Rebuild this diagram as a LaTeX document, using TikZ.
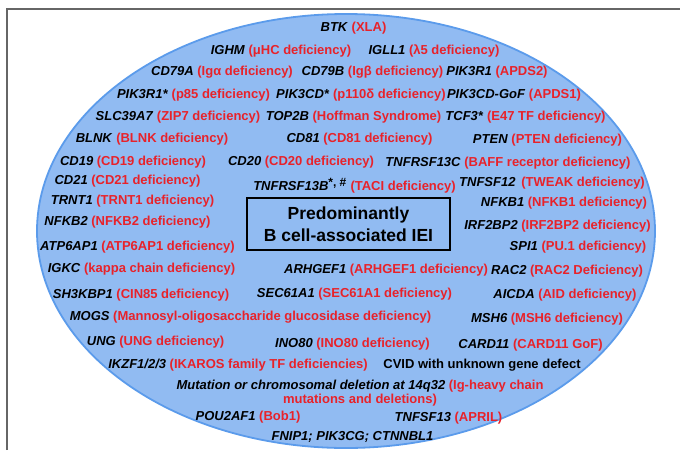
\documentclass[tikz,border=0pt]{standalone}
\usepackage{fontspec}
\setmainfont{Liberation Sans}
\usepackage{xcolor}
\usepackage{tikz}
\usetikzlibrary{shapes.geometric}
\definecolor{iered}{HTML}{E8222A}
\definecolor{ovalfill}{HTML}{91BBF2}
\definecolor{ovalline}{HTML}{5B9BEB}
\newcommand{\iei}[2]{\textit{#1} \textcolor{iered}{(#2)}}

\begin{document}
\begin{tikzpicture}[x=1pt, y=-1pt,
  oval/.style={ellipse, draw=ovalline, fill=ovalfill, line width=1.8pt,
               minimum width=618pt, minimum height=434pt, inner sep=0pt},
  gene/.style={font=\fontsize{13}{14}\selectfont\bfseries, inner sep=0pt, align=center},
  core/.style={draw=black, line width=1.8pt, fill=ovalfill, align=center,
               minimum width=203pt, minimum height=52pt, inner sep=0pt,
               font=\fontsize{17.5}{22}\selectfont\bfseries},
  frame/.style={draw=black!60, line width=1.5pt},
]
\useasboundingbox (0,0) rectangle (680,450);

%% Outer frame (only top and left edges visible)
\draw[frame] (7,450) -- (7,9) -- (680,9);

%% Oval and central box
\node[oval] (oval) at (346,231) {};
\node[core] (core) at (348.5,224) {Predominantly\\B cell-associated IEI};

%% Upper part of the oval
\node[gene] (btk)     at (353.5,28)  {\iei{BTK}{XLA}};
\node[gene] (ighm)    at (281,51)    {\iei{IGHM}{μHC deficiency}};
\node[gene] (igll)    at (434,51)    {\iei{IGLL1}{λ5 deficiency}};
\node[gene] (cdsa)    at (222,72)    {\iei{CD79A}{Igα deficiency}};
\node[gene] (cdsb)    at (372.5,72)  {\iei{CD79B}{Igβ deficiency}};
\node[gene] (apdsb)   at (497,72)    {\iei{PIK3R1}{APDS2}};
\node[gene] (pik)     at (193.5,95)  {\iei{PIK3R1*}{p85 deficiency}};
\node[gene] (pikcd)   at (361,95)    {\iei{PIK3CD*}{p110δ deficiency}};
\node[gene] (apdsa)   at (514,95)    {\iei{PIK3CD-GoF}{APDS1}};
\node[gene] (slc)     at (178,117)   {\iei{SLC39A7}{ZIP7 deficiency}};
\node[gene] (top)     at (353.5,117) {\iei{TOP2B}{Hoffman Syndrome}};
\node[gene] (tcf)     at (525.5,117) {\iei{TCF3*}{E47 TF deficiency}};
\node[gene] (blnk)    at (152,139)   {\iei{BLNK}{BLNK deficiency}};
\node[gene] (cdeo)    at (359.5,139) {\iei{CD81}{CD81 deficiency}};
\node[gene] (pten)    at (547.5,140) {\iei{PTEN}{PTEN deficiency}};

%% Middle band, both sides of the box
\node[gene] (cdni)    at (133,162)   {\iei{CD19}{CD19 deficiency}};
\node[gene] (cdtw)    at (301,162)   {\iei{CD20}{CD20 deficiency}};
\node[gene] (baff)    at (508,163)   {\iei{TNFRSF13C}{BAFF receptor deficiency}};
\node[gene] (cdto)    at (127.5,181) {\iei{CD21}{CD21 deficiency}};
\node[gene] (taci)    at (354.5,186) {\textit{TNFRSF13B}\textsuperscript{\large*, \#} \textcolor{iered}{(TACI deficiency)}};
\node[gene] (tweak)   at (552,183)   {\textit{TNFSF12}\, \textcolor{iered}{(TWEAK deficiency)}};
\node[gene] (trnt)    at (132.5,201) {\iei{TRNT1}{TRNT1 deficiency}};
\node[gene] (nfkba)   at (564,203)   {\iei{NFKB1}{NFKB1 deficiency}};
\node[gene] (nfkbb)   at (127.5,222) {\iei{NFKB2}{NFKB2 deficiency}};
\node[gene] (irf)     at (557.5,226) {\iei{IRF2BP2}{IRF2BP2 deficiency}};
\node[gene] (atp)     at (137.5,247) {\iei{ATP6AP1}{ATP6AP1 deficiency}};
\node[gene] (spi)     at (578,247)   {\iei{SPI1}{PU.1 deficiency}};
\node[gene] (igkc)    at (141.5,269) {\iei{IGKC}{kappa chain deficiency}};
\node[gene] (arh)     at (386,270)   {\iei{ARHGEF1}{ARHGEF1 deficiency}};
\node[gene] (rac)     at (567,271)   {\iei{RAC2}{RAC2 Deficiency}};

%% Lower part of the oval
\node[gene] (sh)      at (141,295)   {\iei{SH3KBP1}{CIN85 deficiency}};
\node[gene] (sec)     at (354.5,294) {\iei{SEC61A1}{SEC61A1 deficiency}};
\node[gene] (aicda)   at (565,295)   {\iei{AICDA}{AID deficiency}};
\node[gene] (mogs)    at (250.5,317) {\iei{MOGS}{Mannosyl-oligosaccharide glucosidase deficiency}};
\node[gene] (msh)     at (547,319)   {\iei{MSH6}{MSH6 deficiency}};
\node[gene] (ung)     at (155.5,342) {\iei{UNG}{UNG deficiency}};
\node[gene] (ino)     at (352.5,344) {\iei{INO80}{INO80 deficiency}};
\node[gene] (card)    at (530.5,345) {\iei{CARD11}{CARD11 GoF}};
\node[gene] (ikzf)    at (238,365)   {\iei{IKZF1/2/3}{IKAROS family TF deficiencies}};
\node[gene] (cvid)    at (482,365)   {CVID with unknown gene defect};
\node[gene] (igh)     at (360,393)   {\textit{Mutation or chromosomal deletion at 14q32} \textcolor{iered}{(Ig-heavy chain}\\
                                      \textcolor{iered}{mutations and deletions)}};
\node[gene] (pou)     at (248,417)   {\iei{POU2AF1}{Bob1}};
\node[gene] (april)   at (448.5,418) {\iei{TNFSF13}{APRIL}};
\node[gene] (fnip)    at (352.5,437) {\textit{FNIP1; PIK3CG; CTNNBL1}};
\end{tikzpicture}
\end{document}
